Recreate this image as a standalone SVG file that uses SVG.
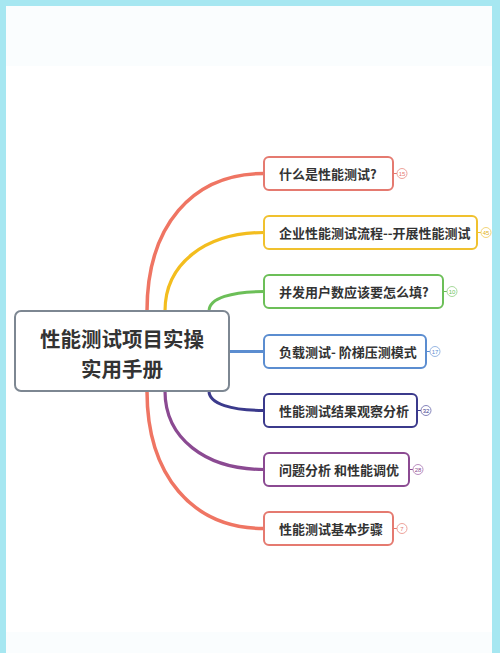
<svg xmlns="http://www.w3.org/2000/svg" width="500" height="653" viewBox="0 0 500 653">
<style>
.edge{fill:none;stroke-linecap:round}
.node{fill:#fff;stroke-width:2}
.lbl{font-family:"Noto Sans CJK SC","Noto Sans",sans-serif;font-weight:bold;fill:#333;font-size:13px;dominant-baseline:central}
.root{font-family:"Noto Sans CJK SC","Noto Sans",sans-serif;font-weight:bold;fill:#333;font-size:20.5px;text-anchor:middle;dominant-baseline:central}
.badge{fill:#fff;stroke-width:1}
.num{font-family:"Liberation Sans",sans-serif;font-size:6px;text-anchor:middle;dominant-baseline:central}
</style>
<rect x="0" y="0" width="500" height="653" fill="#fff"/>
<rect x="6" y="6" width="486" height="60" fill="#fafdfe"/>
<rect x="6" y="632" width="486" height="21" fill="#fafdfe"/>
<g id="connectors">
<path class="edge" stroke="#ef7563" stroke-width="3.5" d="M147,311 C147,226 192,173.5 264,173.5"/>
<path class="edge" stroke="#f3bd1e" stroke-width="3.2" d="M165,311 C165,264 205,232.5 264,232.5"/>
<path class="edge" stroke="#6cbf58" stroke-width="3" d="M209,311 C209,298 232,291.5 264,291.5"/>
<path class="edge" stroke="#5b8dd0" stroke-width="3" d="M229,351.5 L264,351.5"/>
<path class="edge" stroke="#3b3a8c" stroke-width="3" d="M209,391 C209,404 232,410.5 264,410.5"/>
<path class="edge" stroke="#8b4a92" stroke-width="3.2" d="M165,391 C165,438 205,469.5 264,469.5"/>
<path class="edge" stroke="#ef7563" stroke-width="3.5" d="M147,391 C147,475 192,528.5 264,528.5"/>
</g>
<g id="central">
<rect x="15" y="311" width="214" height="80" rx="6" fill="#fff" stroke="#7d8792" stroke-width="2"/>
<text class="root" x="122" y="338">性能测试项目实操</text>
<text class="root" x="122" y="368">实用手册</text>
</g>
<g id="n1">
<rect class="node" x="264" y="157" width="129" height="33" rx="5" stroke="#e57a70"/>
<text class="lbl" x="279" y="173.5">什么是性能测试?</text>
<line x1="393" y1="173.5" x2="397" y2="173.5" stroke="#e57a70" stroke-width="1"/>
<circle class="badge" cx="402" cy="173.5" r="5" stroke="#eea39b"/>
<text class="num" x="402" y="173.5" fill="#e57a70">15</text>
</g>
<g id="n2">
<rect class="node" x="264" y="216" width="213" height="33" rx="5" stroke="#f0c12e"/>
<text class="lbl" x="279" y="232.5">企业性能测试流程--开展性能测试</text>
<line x1="477" y1="232.5" x2="481" y2="232.5" stroke="#f0c12e" stroke-width="1"/>
<circle class="badge" cx="486" cy="232.5" r="5" stroke="#f3d57a"/>
<text class="num" x="486" y="232.5" fill="#e0b020">45</text>
</g>
<g id="n3">
<rect class="node" x="264" y="275" width="179" height="33" rx="5" stroke="#6cbf58"/>
<text class="lbl" x="279" y="291.5">并发用户数应该要怎么填?</text>
<line x1="443" y1="291.5" x2="447" y2="291.5" stroke="#6cbf58" stroke-width="1"/>
<circle class="badge" cx="452" cy="291.5" r="5" stroke="#a6d99a"/>
<text class="num" x="452" y="291.5" fill="#6cbf58">10</text>
</g>
<g id="n4">
<rect class="node" x="264" y="335" width="162" height="33" rx="5" stroke="#5b8dd0"/>
<text class="lbl" x="279" y="351.5">负载测试- 阶梯压测模式</text>
<line x1="426" y1="351.5" x2="430" y2="351.5" stroke="#5b8dd0" stroke-width="1"/>
<circle class="badge" cx="435" cy="351.5" r="5" stroke="#98b7e3"/>
<text class="num" x="435" y="351.5" fill="#5b8dd0">17</text>
</g>
<g id="n5">
<rect class="node" x="264" y="394" width="153" height="33" rx="5" stroke="#3b3a8c"/>
<text class="lbl" x="279" y="410.5">性能测试结果观察分析</text>
<line x1="417" y1="410.5" x2="421" y2="410.5" stroke="#3b3a8c" stroke-width="1"/>
<circle class="badge" cx="426" cy="410.5" r="5" stroke="#8584bb"/>
<text class="num" x="426" y="410.5" fill="#3b3a8c">32</text>
</g>
<g id="n6">
<rect class="node" x="264" y="453" width="145" height="33" rx="5" stroke="#8b4a92"/>
<text class="lbl" x="279" y="469.5">问题分析 和性能调优</text>
<line x1="409" y1="469.5" x2="413" y2="469.5" stroke="#8b4a92" stroke-width="1"/>
<circle class="badge" cx="418" cy="469.5" r="5" stroke="#bb8fc0"/>
<text class="num" x="418" y="469.5" fill="#8b4a92">28</text>
</g>
<g id="n7">
<rect class="node" x="264" y="512" width="129" height="33" rx="5" stroke="#e57a70"/>
<text class="lbl" x="279" y="528.5">性能测试基本步骤</text>
<line x1="393" y1="528.5" x2="397" y2="528.5" stroke="#e57a70" stroke-width="1"/>
<circle class="badge" cx="402" cy="528.5" r="5" stroke="#eea39b"/>
<text class="num" x="402" y="528.5" fill="#e57a70">7</text>
</g>
<rect x="0" y="0" width="500" height="6" fill="#a6e7f1"/>
<rect x="0" y="0" width="6" height="653" fill="#a6e7f1"/>
<rect x="492" y="0" width="8" height="653" fill="#a6e7f1"/>
</svg>
